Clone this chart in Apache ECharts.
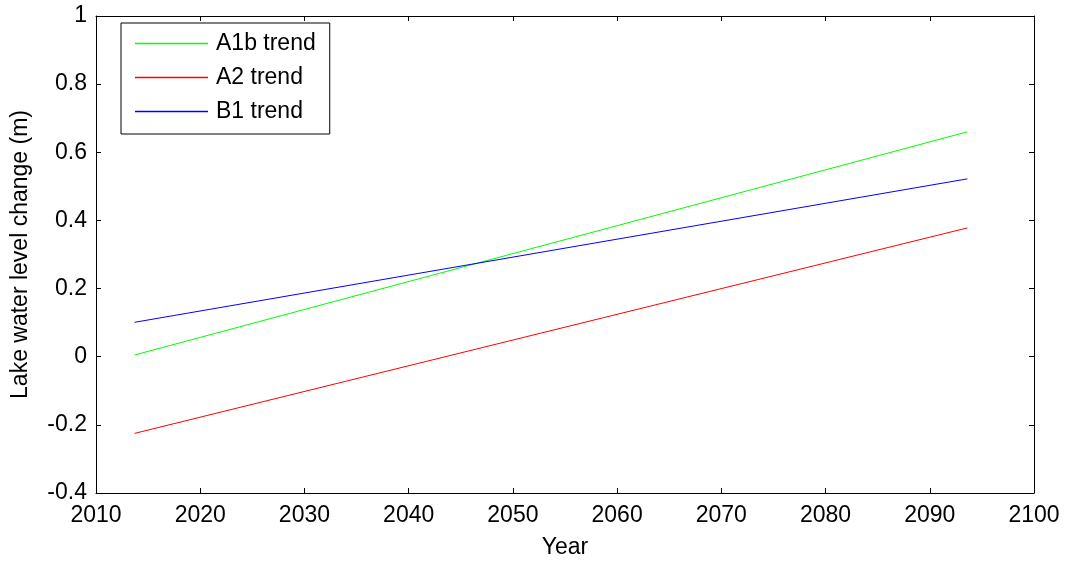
<!DOCTYPE html>
<html>
<head>
<meta charset="utf-8">
<script src="https://cdn.jsdelivr.net/npm/echarts@6/dist/echarts.min.js"></script>
<style>
  html, body { margin: 0; padding: 0; background: #fff; }
  #chart { width: 1067px; height: 561px; }
</style>
</head>
<body>
<div id="chart"></div>
<script>
// Linear trend lines of projected lake water level change, per emission scenario
const seriesNames = ['A1b trend', 'A2 trend', 'B1 trend'];
const trendYears = [2013.7, 2093.6];
const a1bTrend = [0.005, 0.660];
const a2Trend = [-0.225, 0.378];
const b1Trend = [0.101, 0.522];
const seriesColors = ['#00ff00', '#ff0000', '#0000ff'];

const xTicks = { min: 2010, max: 2100, step: 10 };
const yTicks = { min: -0.4, max: 1, step: 0.2 };

const font = 'Liberation Sans, Arial, sans-serif';
const fontSize = 23;
const valueSets = [a1bTrend, a2Trend, b1Trend];

const tickStyle = { show: true, inside: true, length: 5, lineStyle: { color: '#000', width: 1 } };
const lineStyle = { show: true, onZero: false, lineStyle: { color: '#000', width: 1 } };

const chart = echarts.init(document.getElementById('chart'), null, { renderer: 'canvas' });
chart.setOption({
  animation: false,
  backgroundColor: '#fff',
  grid: { left: 96, right: 33, top: 16, bottom: 68, containLabel: false, outerBoundsMode: 'none' },
  legend: {
    left: 121, top: 23,
    orient: 'vertical',
    data: seriesNames.map((name, i) => ({
      name,
      icon: 'rect',
      itemStyle: { color: seriesColors[i], borderWidth: 0, opacity: 1 }
    })),
    itemWidth: 73, itemHeight: 1.5,
    itemGap: 11,
    padding: [9, 14, 11, 14],
    borderColor: '#000', borderWidth: 1,
    backgroundColor: '#fff',
    textStyle: { fontFamily: font, fontSize: fontSize, color: '#000', lineHeight: 23, padding: [0, 0, 0, 3] }
  },
  xAxis: [
    {
      type: 'value', min: xTicks.min, max: xTicks.max, interval: xTicks.step,
      name: 'Year', nameLocation: 'middle', nameGap: 43,
      nameTextStyle: { fontFamily: font, fontSize: fontSize, color: '#000' },
      axisLine: lineStyle, axisTick: tickStyle,
      axisLabel: { fontFamily: font, fontSize: fontSize, color: '#000', margin: 11, formatter: v => String(v) },
      splitLine: { show: false }
    },
    {
      type: 'value', position: 'top', min: xTicks.min, max: xTicks.max, interval: xTicks.step,
      axisLine: lineStyle, axisTick: tickStyle, axisLabel: { show: false }, splitLine: { show: false }
    }
  ],
  yAxis: [
    {
      type: 'value', min: yTicks.min, max: yTicks.max, interval: yTicks.step,
      name: 'Lake water level change (m)', nameLocation: 'middle', nameGap: 64,
      nameTextStyle: { fontFamily: font, fontSize: fontSize, color: '#000' },
      axisLine: lineStyle, axisTick: tickStyle,
      axisLabel: {
        fontFamily: font, fontSize: fontSize, color: '#000', margin: 9,
        formatter: v => String(+v.toFixed(1))
      },
      splitLine: { show: false }
    },
    {
      type: 'value', position: 'right', min: yTicks.min, max: yTicks.max, interval: yTicks.step,
      axisLine: lineStyle, axisTick: tickStyle, axisLabel: { show: false }, splitLine: { show: false }
    }
  ],
  series: seriesNames.map((name, i) => ({
    name,
    type: 'line',
    xAxisIndex: 0, yAxisIndex: 0,
    showSymbol: false, symbol: 'none',
    lineStyle: { color: seriesColors[i], width: 1 },
    itemStyle: { color: seriesColors[i] },
    data: trendYears.map((yr, j) => [yr, valueSets[i][j]])
  }))
});
</script>
</body>
</html>
